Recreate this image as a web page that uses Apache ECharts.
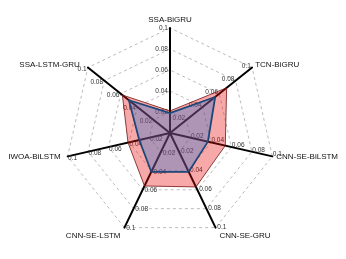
<!DOCTYPE html>
<html><head><meta charset="utf-8">
<script src="https://cdn.jsdelivr.net/npm/echarts@6/dist/echarts.min.js"></script>
<style>html,body{margin:0;padding:0;background:#fff}#c{width:346px;height:259px}</style>
</head><body><div id="c"></div>
<script>
// indicators listed counterclockwise starting from top
const categories = ['SSA-BiGRU','SSA-LSTM-GRU','IWOA-BiLSTM','CNN-SE-LSTM','CNN-SE-GRU','CNN-SE-BiLSTM','TCN-BiGRU'];
const outerValues = [0.021, 0.058, 0.041, 0.056, 0.057, 0.054, 0.069];
const innerValues = [0.019, 0.050, 0.030, 0.041, 0.041, 0.037, 0.055];
const maxValue = 0.1;
const bottomNames = ['CNN-SE-LSTM','CNN-SE-GRU'];
const nameStyleKey = {'SSA-LSTM-GRU':'c','IWOA-BiLSTM':'d'};

const common = {
  center:['49.13%','51.35%'],
  radius:105,
  startAngle:90,
  splitNumber:5,
  shape:'polygon',
  indicator: categories.map(n=>({name:n, max:maxValue, min:0}))
};
const nameFont = {fontSize:8, fontFamily:'Liberation Sans', color:'#111'};
const hidden = {axisLine:{show:false}, splitLine:{show:false}, splitArea:{show:false}, axisTick:{show:false}, axisLabel:{show:false}};

const chart = echarts.init(document.getElementById('c'), null, {renderer:'canvas'});
chart.setOption({
  animation:false,
  backgroundColor:'#fff',
  radar:[
    Object.assign({}, common, {
      axisName:{show:false},
      axisLine:{lineStyle:{color:'#000', width:2}},
      splitLine:{lineStyle:{color:'#aaa', type:[3,3], width:0.8}},
      splitArea:{show:false},
      axisTick:{show:false},
      axisLabel:{show:true, fontSize:6.5, color:'#333', fontFamily:'Liberation Sans', margin:2,
        formatter:v=> v===0?'':String(+v.toFixed(2))}
    }),
    Object.assign({}, common, hidden, {
      nameGap:4,
      axisName:Object.assign({}, nameFont, {
        formatter:n=> bottomNames.includes(n) ? '' : (nameStyleKey[n] ? '{'+nameStyleKey[n]+'|'+n+'}' : n),
        rich:{
          c:Object.assign({}, nameFont, {padding:[0,5,0,0]}),
          d:Object.assign({}, nameFont, {padding:[0,3,0,0]})
        }})
    }),
    Object.assign({}, common, hidden, {
      nameGap:9,
      axisName:Object.assign({}, nameFont, {
        formatter:n=> bottomNames.includes(n) ? n : ''})
    })
  ],
  series:[{
    type:'radar',
    radarIndex:0,
    symbol:'none',
    data:[
      {value:outerValues, lineStyle:{color:'#5a1414', width:0.8}, areaStyle:{color:'rgba(232,10,10,0.5)'}},
      {value:innerValues, lineStyle:{color:'#1b3f66', width:1.8}, areaStyle:{color:'rgba(40,110,205,0.5)'}}
    ]
  }]
});
</script></body></html>
